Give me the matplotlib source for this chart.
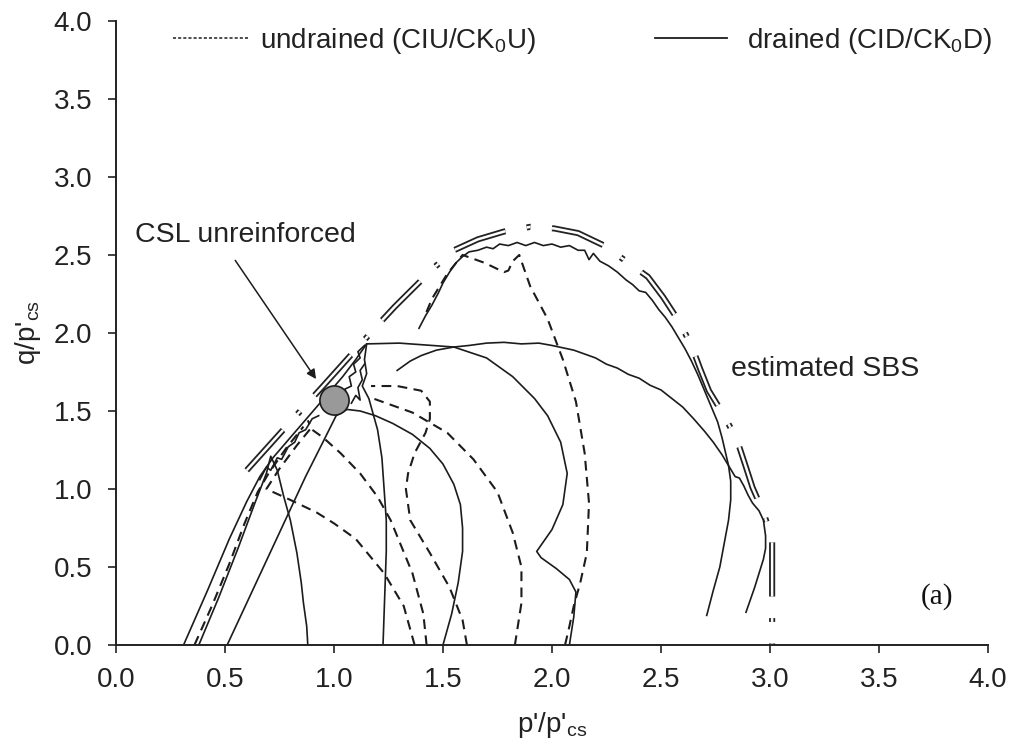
import numpy as np
import matplotlib.pyplot as plt
from matplotlib.lines import Line2D

plt.rcParams['font.family'] = ['Liberation Sans', 'DejaVu Sans']
plt.rcParams['lines.scale_dashes'] = False

# drained stress paths (solid)
s1_p = [0.31, 0.42, 0.52, 0.60, 0.66, 0.72, 0.80, 0.88, 0.96, 1.04, 1.10, 1.15,
        1.30, 1.45, 1.55, 1.70, 1.82, 1.92, 1.98, 2.04, 2.07, 2.05, 2.00, 1.95,
        1.93, 1.95, 2.02, 2.08, 2.11, 2.10, 2.08]
s1_q = [0.00, 0.35, 0.68, 0.92, 1.08, 1.20, 1.33, 1.46, 1.59, 1.72, 1.83, 1.93,
        1.935, 1.92, 1.91, 1.84, 1.72, 1.58, 1.47, 1.30, 1.10, 0.90, 0.74, 0.64,
        0.60, 0.56, 0.49, 0.42, 0.34, 0.18, 0.00]

s2_p = [0.38, 0.47, 0.56, 0.64, 0.69, 0.71, 0.74, 0.77, 0.80, 0.83, 0.85, 0.86, 0.875, 0.88]
s2_q = [0.00, 0.30, 0.62, 0.92, 1.10, 1.21, 1.12, 0.95, 0.80, 0.59, 0.40, 0.27, 0.12, 0.00]

s3_p = [0.51, 0.63, 0.75, 0.87, 0.96, 1.01, 1.06, 1.12, 1.19, 1.27, 1.36, 1.44,
        1.50, 1.55, 1.58, 1.59, 1.59, 1.57, 1.54, 1.50]
s3_q = [0.00, 0.36, 0.72, 1.08, 1.33, 1.47, 1.51, 1.50, 1.47, 1.42, 1.35, 1.26,
        1.16, 1.03, 0.90, 0.75, 0.60, 0.40, 0.20, 0.00]

s4_p = [1.15, 1.14, 1.15, 1.13, 1.16, 1.18, 1.20, 1.22, 1.23, 1.24, 1.24, 1.235, 1.23, 1.225]
s4_q = [1.93, 1.83, 1.74, 1.66, 1.58, 1.48, 1.38, 1.20, 1.00, 0.80, 0.60, 0.40, 0.20, 0.00]

s5_p = [1.29, 1.31, 1.35, 1.40, 1.47, 1.55, 1.62, 1.70, 1.78, 1.86, 1.94, 2.00,
        2.05, 2.10, 2.15, 2.20, 2.25, 2.30, 2.35, 2.40, 2.45, 2.50, 2.55, 2.60,
        2.65, 2.70, 2.74, 2.78, 2.81, 2.82, 2.82, 2.81, 2.79, 2.77, 2.74, 2.71]
s5_q = [1.76, 1.78, 1.82, 1.855, 1.89, 1.91, 1.92, 1.935, 1.94, 1.93, 1.935, 1.92,
        1.905, 1.89, 1.865, 1.84, 1.80, 1.775, 1.735, 1.71, 1.665, 1.635, 1.58, 1.525,
        1.45, 1.37, 1.30, 1.22, 1.15, 1.05, 0.93, 0.80, 0.65, 0.50, 0.35, 0.19]

s6_p = [1.39, 1.42, 1.45, 1.48, 1.50, 1.53, 1.56, 1.59, 1.62, 1.66, 1.70, 1.73,
        1.76, 1.80, 1.84, 1.88, 1.92, 1.96, 2.00, 2.04, 2.08, 2.12, 2.15, 2.17,
        2.19, 2.22, 2.26, 2.30, 2.34, 2.37, 2.40, 2.43, 2.46, 2.49, 2.52, 2.55,
        2.58, 2.61, 2.64, 2.67, 2.70, 2.73, 2.76, 2.78, 2.81, 2.84, 2.86, 2.88,
        2.90, 2.92, 2.95, 2.97, 2.98, 2.98, 2.97, 2.95, 2.93, 2.91, 2.89]
s6_q = [2.03, 2.11, 2.18, 2.26, 2.32, 2.39, 2.45, 2.49, 2.52, 2.53, 2.55, 2.54,
        2.57, 2.56, 2.58, 2.56, 2.58, 2.56, 2.57, 2.55, 2.56, 2.53, 2.53, 2.47,
        2.51, 2.46, 2.43, 2.39, 2.34, 2.31, 2.27, 2.26, 2.21, 2.15, 2.10, 2.04,
        1.97, 1.90, 1.82, 1.73, 1.63, 1.53, 1.43, 1.33, 1.15, 1.08, 1.07, 1.02,
        0.96, 0.91, 0.86, 0.80, 0.70, 0.62, 0.55, 0.46, 0.37, 0.29, 0.21]

# jagged traces near the peak of the drained tests
j1_p = [1.03, 1.06, 1.05, 1.08, 1.07, 1.10, 1.09, 1.12, 1.11, 1.14]
j1_q = [1.52, 1.60, 1.64, 1.66, 1.72, 1.75, 1.80, 1.84, 1.88, 1.92]
j2_p = [1.08, 1.10, 1.12, 1.11, 1.13, 1.12, 1.14]
j2_q = [1.55, 1.60, 1.57, 1.65, 1.70, 1.76, 1.80]
j3_p = [0.66, 0.69, 0.71, 0.74, 0.76, 0.79, 0.82, 0.84, 0.87, 0.90, 0.93]
j3_q = [1.06, 1.14, 1.12, 1.20, 1.19, 1.27, 1.30, 1.36, 1.38, 1.45, 1.47]

# undrained stress paths (dashed)
d0_p = [0.36, 0.44, 0.52, 0.59, 0.65, 0.70, 0.78, 0.86]
d0_q = [0.00, 0.25, 0.52, 0.78, 0.98, 1.10, 1.26, 1.40]

d1_p = [1.37, 1.36, 1.32, 1.23, 1.10, 1.00, 0.92, 0.80, 0.69, 0.75, 0.83, 0.90]
d1_q = [0.00, 0.05, 0.25, 0.46, 0.68, 0.78, 0.85, 0.93, 1.00, 1.13, 1.28, 1.40]

d2_p = [1.425, 1.41, 1.36, 1.26, 1.20, 1.12, 1.03, 0.95, 0.90, 0.88]
d2_q = [0.00, 0.20, 0.46, 0.80, 0.95, 1.10, 1.23, 1.33, 1.38, 1.44]

d3_p = [1.61, 1.59, 1.53, 1.44, 1.35, 1.33, 1.34, 1.37, 1.42, 1.44, 1.44, 1.40, 1.29, 1.17]
d3_q = [0.00, 0.16, 0.37, 0.59, 0.80, 1.00, 1.10, 1.23, 1.36, 1.45, 1.56, 1.63, 1.66, 1.66]

d4_p = [1.83, 1.86, 1.86, 1.82, 1.75, 1.64, 1.52, 1.36, 1.18]
d4_q = [0.00, 0.27, 0.50, 0.72, 0.98, 1.19, 1.36, 1.49, 1.58]

d5_p = [2.06, 2.08, 2.10, 2.13, 2.16, 2.17, 2.15, 2.11, 2.05, 1.98, 1.90, 1.85,
        1.82, 1.80, 1.78, 1.69, 1.59, 1.52, 1.45, 1.42]
d5_q = [0.00, 0.12, 0.25, 0.40, 0.59, 0.91, 1.23, 1.56, 1.83, 2.09, 2.30, 2.50,
        2.46, 2.40, 2.39, 2.45, 2.50, 2.38, 2.22, 2.12]

# estimated state boundary surface
sbs_p = [0.60, 0.80, 0.95, 1.13, 1.20, 1.28, 1.46, 1.55, 1.66, 1.78, 1.90, 2.01,
         2.12, 2.24, 2.34, 2.44, 2.51, 2.58, 2.64, 2.68, 2.72, 2.79, 2.85, 2.89,
         2.92, 2.97, 3.01, 3.01, 3.01, 3.01]
sbs_q = [1.12, 1.43, 1.66, 1.94, 2.05, 2.17, 2.42, 2.53, 2.60, 2.65, 2.68, 2.67,
         2.64, 2.56, 2.46, 2.36, 2.23, 2.08, 1.92, 1.77, 1.63, 1.47, 1.31, 1.14,
         1.01, 0.85, 0.68, 0.50, 0.34, 0.00]

csl_p = 1.0
csl_q = 1.57

ticks = [0.0, 0.5, 1.0, 1.5, 2.0, 2.5, 3.0, 3.5, 4.0]

fig = plt.figure(figsize=(10.11, 7.47), dpi=100)
ax = fig.add_axes([0.1147, 0.1365, 0.8625, 0.8355])

ink = '#1c1c1c'
solid_kw = dict(color=ink, lw=1.2, solid_joinstyle='round')
dash_kw = dict(color=ink, lw=1.5, dashes=(7.0, 4.6))

for p, q in [(s1_p, s1_q), (s2_p, s2_q), (s3_p, s3_q), (s4_p, s4_q),
             (s5_p, s5_q), (s6_p, s6_q), (j1_p, j1_q), (j2_p, j2_q), (j3_p, j3_q)]:
    ax.plot(p, q, **solid_kw)

for p, q in [(d0_p, d0_q), (d1_p, d1_q), (d2_p, d2_q), (d3_p, d3_q),
             (d4_p, d4_q), (d5_p, d5_q)]:
    ax.plot(p, q, **dash_kw)

# SBS as a hollow long-short dashed line
sbs_dash = (39.0, 15.5, 2.8, 15.5)
ax.plot(sbs_p, sbs_q, color='#222222', lw=4.4, dashes=sbs_dash, dash_capstyle='butt')
ax.plot(sbs_p, sbs_q, color='white', lw=1.8, dashes=sbs_dash, dash_capstyle='butt')

ax.plot(csl_p, csl_q, 'o', ms=21, mfc='#999999', mec=ink, mew=1.2, zorder=5)

ax.annotate('', xy=(0.925, 1.69), xytext=(0.54, 2.48),
            arrowprops=dict(arrowstyle='-|>', color=ink, lw=1.1, mutation_scale=14))
ax.text(0.087, 2.63, 'CSL unreinforced', fontsize=20.5, va='center', color='#222222')
ax.text(2.82, 1.77, 'estimated SBS', fontsize=20.5, va='center', color='#222222')
ax.text(3.69, 0.31, '(a)', fontsize=21, va='center', family='Liberation Serif', color='#111111')

ax.set_xlim(0, 4)
ax.set_ylim(0, 4)
ax.set_xticks(ticks)
ax.set_yticks(ticks)
ax.set_xticklabels(['%.1f' % t for t in ticks])
ax.set_yticklabels(['%.1f' % t for t in ticks])
ax.tick_params(labelsize=20, length=6, width=1.2, color='#222222', labelcolor='#222222')
ax.tick_params(axis='y', pad=11)
ax.tick_params(axis='x', pad=10)
for side in ['top', 'right']:
    ax.spines[side].set_visible(False)
for side in ['left', 'bottom']:
    ax.spines[side].set_linewidth(1.4)
    ax.spines[side].set_color('#222222')

ax.set_xlabel(r"p'/p'$_{\mathregular{cs}}$", fontsize=20, color='#222222', labelpad=12)
ax.set_ylabel(r"q/p'$_{\mathregular{cs}}$", fontsize=20, color='#222222', labelpad=8)

leg_undr = Line2D([], [], color=ink, lw=1.1, dashes=(2.2, 1.5))
leg_dr = Line2D([], [], color=ink, lw=1.3)
fig.legend(handles=[leg_undr], labels=[r'undrained (CIU/CK$_\mathregular{0}$U)'],
           loc='center left', bbox_to_anchor=(0.171, 0.945), frameon=False,
           handlelength=2.7, handletextpad=0.45, borderpad=0, borderaxespad=0,
           fontsize=20, labelcolor='#222222')
fig.legend(handles=[leg_dr], labels=[r'drained (CID/CK$_\mathregular{0}$D)'],
           loc='center left', bbox_to_anchor=(0.648, 0.945), frameon=False,
           handlelength=2.6, handletextpad=0.7, borderpad=0, borderaxespad=0,
           fontsize=20, labelcolor='#222222')

fig.savefig('out.png', dpi=100)
